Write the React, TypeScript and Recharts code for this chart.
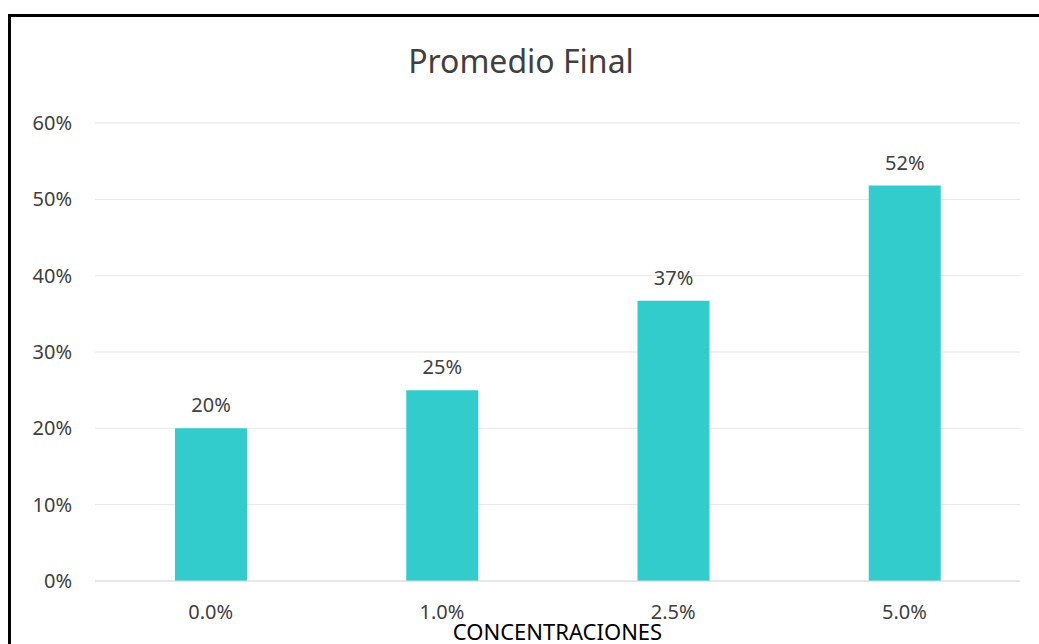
import { BarChart, Bar, XAxis, YAxis, CartesianGrid, LabelList, Label } from 'recharts';

const categories = ['0.0%', '1.0%', '2.5%', '5.0%'];
const promedio = [0.20, 0.25, 0.367, 0.518];
const yTicks = [0, 0.1, 0.2, 0.3, 0.4, 0.5, 0.6];

const data = categories.map((c, i) => ({ name: c, value: promedio[i] }));

const pct = (v: number) => `${Math.round(v * 100)}%`;

export default function App() {
  return (
    <div
      style={{
        position: 'fixed',
        left: 8,
        top: 14,
        width: 1031,
        height: 630,
        borderLeft: '3px solid #000',
        borderTop: '3px solid #000',
        background: '#fff',
        fontFamily: '"Noto Sans", sans-serif',
      }}
    >
      <div
        style={{
          position: 'absolute',
          left: 0,
          top: 22,
          width: 1020,
          textAlign: 'center',
          fontSize: 32,
          color: '#404040',
        }}
      >
        Promedio Final
      </div>
      <BarChart
        width={1031}
        height={630}
        data={data}
        margin={{ top: 106, right: 22, bottom: 0, left: 0 }}
      >
        <CartesianGrid vertical={false} stroke="#e6e6e6" />
        <YAxis
          width={84}
          domain={[0, 0.6]}
          ticks={yTicks}
          tickFormatter={pct}
          axisLine={false}
          tickLine={false}
          tickMargin={17}
          tick={{ fontSize: 20, fill: '#404040' }}
        />
        <XAxis
          dataKey="name"
          height={66}
          axisLine={{ stroke: '#d9d9d9' }}
          tickLine={false}
          tickMargin={18}
          tick={{ fontSize: 20, fill: '#404040' }}
        >
          <Label value="CONCENTRACIONES" position="insideBottom" offset={7} style={{ fontSize: 22, fill: '#000' }} />
        </XAxis>
        <Bar dataKey="value" fill="#33CCCC" barSize={72} isAnimationActive={false}>
          <LabelList dataKey="value" position="top" offset={16} formatter={(v: any) => pct(Number(v))} style={{ fontSize: 20, fill: '#404040' }} />
        </Bar>
      </BarChart>
    </div>
  );
}
